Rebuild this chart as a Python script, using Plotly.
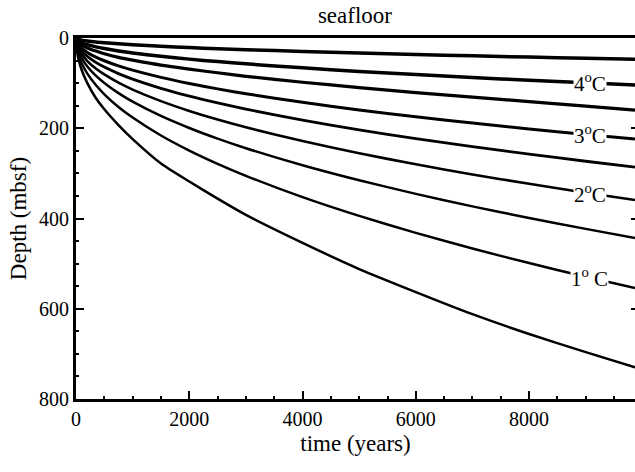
import plotly.graph_objects as go
import numpy as np

# time (years)
time_years = [0, 20, 50, 100, 200, 350, 500, 750, 1000, 1500, 2000, 2500, 3000,
              4000, 5000, 6000, 7000, 8000, 9000, 9870]

# isotherm depths (mbsf)
depth_c1 = [0, 2.1, 3.3, 4.7, 6.7, 8.9, 10.6, 13.0, 15.0, 18.3, 21.2, 23.7, 25.9, 29.9, 33.5, 36.6, 39.6, 42.3, 44.9, 47]
depth_c2 = [0, 4.7, 7.4, 10.5, 14.8, 19.6, 23.4, 28.7, 33.1, 40.5, 46.8, 52.3, 57.3, 66.2, 74.0, 81.1, 87.6, 93.6, 99.3, 104]
depth_c3 = [0, 7.0, 11, 15.5, 22, 29, 35, 43, 49, 60, 69, 77, 85, 98, 110, 121, 131, 141, 151, 160]
depth_c4 = [0, 10.1, 15.9, 22.6, 31.9, 42.2, 50.4, 61.8, 71.3, 87.3, 100.8, 112.7, 123.5, 142.6, 159.4, 174.7, 188.6, 201.7, 213.9, 224]
depth_c5 = [0, 12.9, 20.4, 28.8, 40.7, 53.9, 64.4, 78.9, 91.0, 111.5, 128.8, 143.9, 157.7, 182.1, 203.6, 223.0, 240.8, 257.5, 273.1, 286]
depth_c6 = [0, 16.2, 25.6, 36.2, 51.1, 67.6, 80.8, 99.0, 114.3, 139.9, 161.6, 180.7, 197.9, 228.5, 255.5, 279.9, 302.3, 323.2, 342.8, 359]
depth_c7 = [0, 19.9, 31.5, 44.6, 63.1, 83.4, 99.7, 122.1, 141.0, 172.7, 199.4, 223.0, 244.2, 282.0, 315.3, 345.4, 373.1, 398.8, 423.0, 443]
depth_c8 = [0, 24.9, 39.4, 55.8, 78.9, 104.3, 124.7, 152.7, 176.3, 216.0, 249.4, 278.8, 305.4, 352.7, 394.3, 431.9, 466.5, 498.8, 529.0, 554]
depth_c9 = [0, 32, 50, 71, 100, 133, 158, 193, 224, 278, 318, 356, 392, 454, 512, 563, 612, 656, 696, 730]

curves = [depth_c1, depth_c2, depth_c3, depth_c4, depth_c5, depth_c6, depth_c7, depth_c8, depth_c9]
widths = [3.5, 3.5, 3.2, 3.0, 2.8, 2.6, 2.5, 2.5, 2.5]

# labels: (curve index, text)
label_curves = [1, 3, 5, 7]
label_texts = ["4<sup>o</sup>C", "3<sup>o</sup>C", "2<sup>o</sup>C", "1<sup>o</sup> C"]
label_time = 9070

x_ticks = [0, 2000, 4000, 6000, 8000]
y_ticks = [0, 200, 400, 600, 800]

FONT = "'Liberation Serif', 'Times New Roman', Times, serif"

fig = go.Figure()
for d, w in zip(curves, widths):
    fig.add_trace(go.Scatter(x=time_years, y=d, mode="lines",
                             line=dict(color="black", width=w, shape="spline", smoothing=0.6),
                             hoverinfo="skip", showlegend=False))
fig.add_trace(go.Scatter(x=[0], y=[0], yaxis="y2", mode="markers",
                         marker=dict(opacity=0), showlegend=False, hoverinfo="skip"))

for ci, txt in zip(label_curves, label_texts):
    yv = float(np.interp(label_time, time_years, curves[ci]))
    fig.add_annotation(x=label_time, y=yv, text=txt, showarrow=False,
                       xanchor="center", yanchor="middle",
                       bgcolor="white", borderpad=0,
                       font=dict(family=FONT, size=21, color="black"))

fig.update_layout(
    width=635, height=472,
    margin=dict(l=76, r=0, t=38, b=73),
    paper_bgcolor="white", plot_bgcolor="white",
    font=dict(family=FONT, size=20, color="black"),
    title=dict(text="seafloor", x=0.559, xanchor="center", y=0.968, yanchor="middle",
               font=dict(family=FONT, size=23, color="black")),
    xaxis=dict(range=[0, 9870], tickvals=x_ticks, ticks="inside", ticklen=8, tickwidth=2,
               tickcolor="black", showline=True, linewidth=3, linecolor="black",
               mirror=True, showgrid=False, zeroline=False,
               minor=dict(dtick=500, ticks="inside", ticklen=3, tickwidth=2, tickcolor="black", showgrid=False),
               title=dict(text="time (years)", font=dict(family=FONT, size=23), standoff=6),
               tickfont=dict(family=FONT, size=20)),
    yaxis=dict(range=[800, 0], tickvals=y_ticks, ticks="inside", ticklen=8, tickwidth=2,
               tickcolor="black", showline=True, linewidth=3, linecolor="black",
               showgrid=False, zeroline=False,
               minor=dict(dtick=50, ticks="inside", ticklen=3, tickwidth=2, tickcolor="black", showgrid=False),
               title=dict(text="Depth (mbsf)", font=dict(family=FONT, size=23), standoff=6),
               tickfont=dict(family=FONT, size=20)),
    yaxis2=dict(range=[800, 0], overlaying="y", side="right", tickvals=[200, 400, 600],
                ticks="inside", ticklen=4, tickwidth=2, tickcolor="black",
                showticklabels=False, showline=False, showgrid=False, zeroline=False),
)

fig.write_html("out.html")
